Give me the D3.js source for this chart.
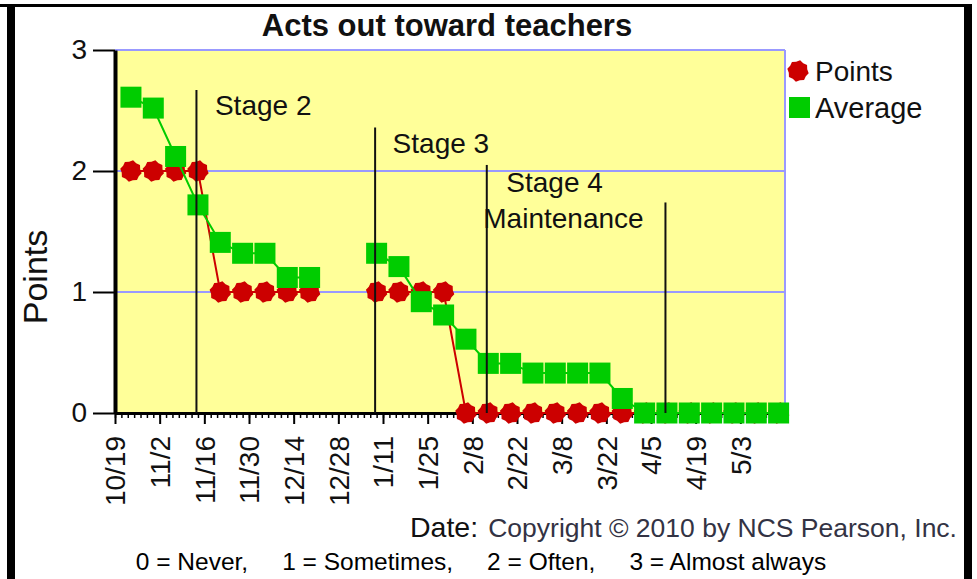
<!doctype html>
<html lang="en">
  <head>
    <meta charset="UTF-8" />
    <title>Acts out toward teachers</title>
    <script src="https://d3js.org/d3.v7.min.js"></script>
    <style>
      body {
        margin: 0;
        background: #fff;
      }
      svg {
        display: block;
        font-family: "Liberation Sans", Arial, sans-serif;
      }
    </style>
  </head>
  <body>
    <svg width="977" height="579"></svg>

    <script>
      // weekly observations (Saturdays), break over the winter holiday
      const dates = [
        "2009-10-24", "2009-10-31", "2009-11-07", "2009-11-14",
        "2009-11-21", "2009-11-28", "2009-12-05", "2009-12-12", "2009-12-19",
        "2010-01-09", "2010-01-16", "2010-01-23", "2010-01-30",
        "2010-02-06", "2010-02-13", "2010-02-20", "2010-02-27",
        "2010-03-06", "2010-03-13", "2010-03-20", "2010-03-27",
        "2010-04-03", "2010-04-10", "2010-04-17", "2010-04-24",
        "2010-05-01", "2010-05-08", "2010-05-15",
      ];
      const points = [
        2, 2, 2, 2,
        1, 1, 1, 1, 1,
        1, 1, 1, 1,
        0, 0, 0, 0, 0, 0, 0, 0,
        0, 0, 0, 0, 0, 0, 0,
      ];
      const average = [
        2.61, 2.52, 2.12, 1.72,
        1.41, 1.32, 1.32, 1.12, 1.12,
        1.32, 1.21, 0.92, 0.81,
        0.61, 0.41, 0.41, 0.33, 0.33, 0.33, 0.33, 0.12,
        0, 0, 0, 0, 0, 0, 0,
      ];

      const tickDates = [
        "2009-10-19", "2009-11-02", "2009-11-16", "2009-11-30",
        "2009-12-14", "2009-12-28", "2010-01-11", "2010-01-25",
        "2010-02-08", "2010-02-22", "2010-03-08", "2010-03-22",
        "2010-04-05", "2010-04-19", "2010-05-03",
      ];
      const tickLabels = [
        "10/19", "11/2", "11/16", "11/30", "12/14", "12/28", "1/11",
        "1/25", "2/8", "2/22", "3/8", "3/22", "4/5", "4/19", "5/3",
      ];
      const yTicks = [0, 1, 2, 3];

      // phase change lines and their labels
      const stageDates = ["2009-11-14", "2010-01-09", "2010-02-13", "2010-04-10"];
      const stageTops = [2.67, 2.36, 2.05, 1.74];
      const stageLabels = ["Stage 2", "Stage 3", "Stage 4", "Maintenance"];
      const stageLabelY = [2.46, 2.15, 1.83, 1.53];

      const scaleLabels = ["0 = Never,", "1 = Sometimes,", "2 = Often,", "3 = Almost always"];

      const parse = d3.utcParse("%Y-%m-%d");
      const svg = d3.select("svg");

      const x = d3
        .scaleUtc()
        .domain([parse("2009-10-19"), parse("2010-05-17")])
        .range([115, 785]);
      const y = d3.scaleLinear().domain([0, 3]).range([413, 50]);

      const rows = dates.map((d, i) => ({
        date: parse(d),
        points: points[i],
        average: average[i],
      }));

      // split into runs where there is a gap of more than a week
      const segments = [];
      rows.forEach((r, i) => {
        if (i === 0 || r.date - rows[i - 1].date > 10 * 864e5) segments.push([]);
        segments[segments.length - 1].push(r);
      });

      // frame
      svg.append("rect").attr("x", 0).attr("y", 4).attr("width", 972).attr("height", 3).attr("fill", "#000");
      svg.append("rect").attr("x", 7).attr("y", 4).attr("width", 8).attr("height", 575).attr("fill", "#000");
      svg.append("rect").attr("x", 964).attr("y", 4).attr("width", 8).attr("height", 575).attr("fill", "#000");

      // title
      svg
        .append("text")
        .attr("x", 447)
        .attr("y", 36)
        .attr("text-anchor", "middle")
        .attr("font-size", 31)
        .attr("font-weight", "bold")
        .attr("fill", "#111")
        .text("Acts out toward teachers");

      // plot background + grid
      svg
        .append("rect")
        .attr("x", x.range()[0])
        .attr("y", y(3))
        .attr("width", x.range()[1] - x.range()[0])
        .attr("height", y(0) - y(3))
        .attr("fill", "#ffff99");

      svg
        .append("g")
        .selectAll("line")
        .data([1, 2, 3])
        .join("line")
        .attr("x1", x.range()[0])
        .attr("x2", x.range()[1])
        .attr("y1", (d) => y(d))
        .attr("y2", (d) => y(d))
        .attr("stroke", "#9999ff")
        .attr("stroke-width", 2);
      svg
        .append("line")
        .attr("x1", x.range()[1])
        .attr("x2", x.range()[1])
        .attr("y1", y(3))
        .attr("y2", y(0))
        .attr("stroke", "#9999ff")
        .attr("stroke-width", 2);

      // axes
      const minorTicks = d3.utcDay.range(x.domain()[0], x.domain()[1], 2);
      svg
        .append("g")
        .attr("transform", `translate(0,${y(0)})`)
        .call(d3.axisBottom(x).tickValues(minorTicks).tickSize(5).tickSizeOuter(0).tickFormat(""))
        .call((g) => g.select(".domain").remove())
        .call((g) => g.selectAll("line").attr("stroke-width", 1.5));

      const xAxis = svg
        .append("g")
        .attr("transform", `translate(0,${y(0)})`)
        .call(
          d3
            .axisBottom(x)
            .tickValues(tickDates.map(parse))
            .tickSize(11)
            .tickSizeOuter(0)
            .tickFormat((d, i) => tickLabels[i]),
        );
      xAxis.select(".domain").attr("stroke-width", 3);
      xAxis.selectAll("line").attr("stroke-width", 2);
      xAxis
        .selectAll("text")
        .attr("font-size", 28)
        .attr("font-family", null)
        .attr("fill", "#111")
        .attr("transform", "rotate(-90)")
        .attr("text-anchor", "end")
        .attr("x", -23)
        .attr("y", 0)
        .attr("dy", "0.35em");

      const yAxis = svg
        .append("g")
        .attr("transform", `translate(${x.range()[0]},0)`)
        .call(d3.axisLeft(y).tickValues(yTicks).tickSize(22).tickSizeOuter(0).tickPadding(6).tickFormat(d3.format("d")));
      yAxis.select(".domain").attr("stroke-width", 4);
      yAxis.selectAll("line").attr("stroke-width", 2);
      yAxis.selectAll("text").attr("font-size", 28).attr("font-family", null).attr("fill", "#111");

      svg
        .append("text")
        .attr("transform", "translate(47,277) rotate(-90)")
        .attr("text-anchor", "middle")
        .attr("font-size", 34)
        .attr("fill", "#111")
        .text("Points");

      // series
      const gear = (() => {
        const pts = d3.range(16).map((i) => {
          const a = (i * Math.PI) / 8 + Math.PI / 16;
          const r = i % 2 ? 9.4 : 10.9;
          return [Math.cos(a) * r, Math.sin(a) * r];
        });
        return "M" + pts.join("L") + "Z";
      })();

      const redLine = d3
        .line()
        .x((d) => x(d.date))
        .y((d) => y(d.points));
      const greenLine = d3
        .line()
        .x((d) => x(d.date))
        .y((d) => y(d.average));

      svg
        .append("g")
        .selectAll("path")
        .data(segments)
        .join("path")
        .attr("d", redLine)
        .attr("fill", "none")
        .attr("stroke", "#cc0000")
        .attr("stroke-width", 2);

      svg
        .append("g")
        .selectAll("path")
        .data(rows)
        .join("path")
        .attr("d", gear)
        .attr("transform", (d) => `translate(${x(d.date)},${y(d.points)})`)
        .attr("fill", "#cc0000");

      svg
        .append("g")
        .selectAll("path")
        .data(segments)
        .join("path")
        .attr("d", greenLine)
        .attr("fill", "none")
        .attr("stroke", "#00cc00")
        .attr("stroke-width", 2);

      svg
        .append("g")
        .selectAll("rect")
        .data(rows)
        .join("rect")
        .attr("x", (d) => x(d.date) - 10.5)
        .attr("y", (d) => y(d.average) - 10.5)
        .attr("width", 21)
        .attr("height", 21)
        .attr("fill", "#00cc00");

      // stage lines and labels
      svg
        .append("g")
        .selectAll("line")
        .data(stageDates)
        .join("line")
        .attr("x1", (d) => x(parse(d)) - 1.5)
        .attr("x2", (d) => x(parse(d)) - 1.5)
        .attr("y1", (d, i) => y(stageTops[i]))
        .attr("y2", y(0))
        .attr("stroke", "#111")
        .attr("stroke-width", 2);

      const labelX = [
        x(parse(stageDates[0])) + 17,
        x(parse(stageDates[1])) + 16,
        x(parse(stageDates[2])) + 18,
        x(parse(stageDates[2])) - 5,
      ];
      svg
        .append("g")
        .selectAll("text")
        .data(stageLabels)
        .join("text")
        .attr("x", (d, i) => labelX[i])
        .attr("y", (d, i) => y(stageLabelY[i]))
        .attr("font-size", 28)
        .attr("fill", "#111")
        .text((d) => d);

      // legend
      const legend = svg.append("g");
      legend.append("path").attr("d", gear).attr("transform", "translate(798,71)").attr("fill", "#cc0000");
      legend.append("text").attr("x", 815).attr("y", 81).attr("font-size", 28).attr("fill", "#111").text("Points");
      legend.append("rect").attr("x", 789).attr("y", 97).attr("width", 21).attr("height", 21).attr("fill", "#00cc00");
      legend.append("text").attr("x", 815).attr("y", 118).attr("font-size", 29).attr("fill", "#111").text("Average");

      // footer
      svg.append("text").attr("x", 410).attr("y", 537).attr("font-size", 28.5).attr("fill", "#111").text("Date:");
      svg
        .append("text")
        .attr("x", 957)
        .attr("y", 537)
        .attr("text-anchor", "end")
        .attr("font-size", 26.5)
        .attr("fill", "#333344")
        .text("Copyright \u00a9 2010 by NCS Pearson, Inc.");

      svg
        .append("text")
        .attr("x", 481)
        .attr("y", 570)
        .attr("text-anchor", "middle")
        .attr("font-size", 24.5)
        .attr("fill", "#000")
        .style("white-space", "pre")
        .text(scaleLabels.join("     "));
    </script>
  </body>
</html>
